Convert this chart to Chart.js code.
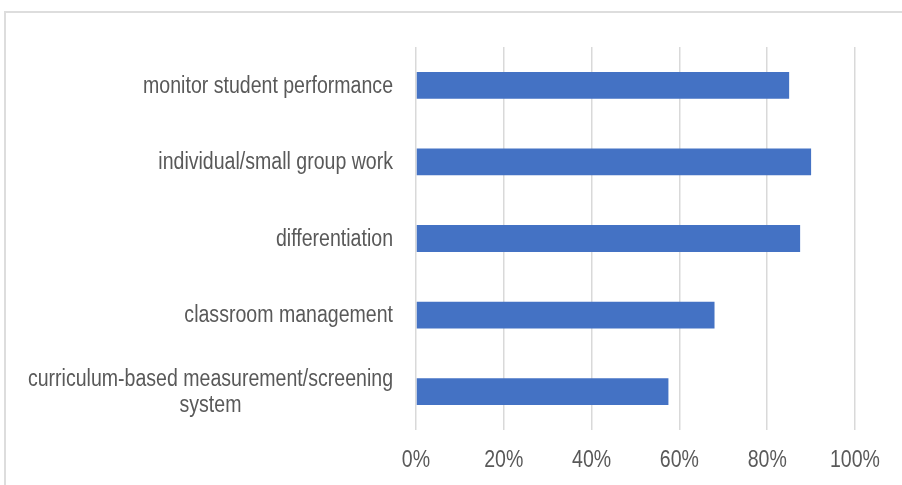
<!DOCTYPE html>
<html>
<head>
<meta charset="utf-8">
<script src="https://cdn.jsdelivr.net/npm/chart.js@4.4.0/dist/chart.umd.min.js"></script>
<style>
  html, body { margin: 0; padding: 0; background: #fff; overflow: hidden; }
  #wrap { position: relative; width: 902px; height: 485px; }
  #frame { position: absolute; left: 4px; top: 11px; width: 1000px; height: 600px;
           border-left: 2px solid #dddddd; border-top: 2px solid #dddddd; }
  canvas { position: absolute; left: 0; top: 0; }
</style>
</head>
<body>
<div id="wrap">
  <div id="frame"></div>
  <canvas id="graphique" width="902" height="485"></canvas>
</div>
<script>
// categories, top to bottom
const categories = [
  'monitor student performance',
  'individual/small group work',
  'differentiation',
  'classroom management',
  ['curriculum-based measurement/screening', 'system'],
];
// share of respondents, %
const values = [85, 90, 87.5, 68, 57.5];
const xTicks = [0, 20, 40, 60, 80, 100];

const FONT = '"Liberation Sans", Arial, sans-serif';
const FONT_SIZE = 23;
const TEXT = '#595959';
const SQUEEZE = 0.85; // the source font is a narrow one

// draws a line of text squeezed horizontally
function narrowText(ctx, txt, x, y, align) {
  const w = ctx.measureText(txt).width * SQUEEZE;
  let left = x;
  if (align === 'center') left = x - w / 2;
  if (align === 'right') left = x - w;
  ctx.save();
  ctx.translate(left, y);
  ctx.scale(SQUEEZE, 1);
  ctx.fillText(txt, 0, 0);
  ctx.restore();
}

// axis labels: y block right aligned, lines centred in the block (like Excel)
const axisText = {
  id: 'axisText',
  afterDraw(chart) {
    const ctx = chart.ctx;
    const ys = chart.scales.y;
    const xs = chart.scales.x;
    ctx.save();
    ctx.font = FONT_SIZE + 'px ' + FONT;
    ctx.fillStyle = TEXT;
    ctx.textBaseline = 'middle';
    ctx.textAlign = 'left';
    const right = chart.chartArea.left - 23;
    const lineH = 26;
    categories.forEach((lab, i) => {
      const lines = Array.isArray(lab) ? lab : [lab];
      const w = Math.max(...lines.map(l => ctx.measureText(l).width)) * SQUEEZE;
      const cx = right - w / 2;
      const y = ys.getPixelForTick(i) + 1;
      const y0 = y - (lines.length - 1) * lineH / 2;
      lines.forEach((l, k) => narrowText(ctx, l, cx, y0 + k * lineH, 'center'));
    });
    xTicks.forEach((v) => {
      narrowText(ctx, v + '%', xs.getPixelForValue(v), chart.chartArea.bottom + 31, 'center');
    });
    ctx.restore();
  }
};

new Chart(document.getElementById('graphique'), {
  type: 'bar',
  data: {
    labels: categories,
    datasets: [{
      data: values,
      backgroundColor: '#4472C4',
      borderWidth: 0,
      categoryPercentage: 1,
      barPercentage: 0.35,
    }],
  },
  options: {
    indexAxis: 'y',
    responsive: false,
    animation: false,
    layout: { padding: { top: 47, right: 47, left: 0, bottom: 0 } },
    plugins: { legend: { display: false }, tooltip: { enabled: false } },
    scales: {
      x: {
        min: 0,
        max: 100,
        afterBuildTicks: (s) => { s.ticks = xTicks.map(v => ({ value: v })); },
        afterFit: (s) => { s.height = 55; },
        grid: { color: '#d9d9d9', lineWidth: 1.5, drawTicks: false },
        border: { display: false },
        ticks: { color: 'rgba(0,0,0,0)', font: { family: FONT, size: FONT_SIZE } },
      },
      y: {
        afterFit: (s) => { s.width = 416; },
        grid: { display: false },
        border: { display: false },
        ticks: { color: 'rgba(0,0,0,0)', font: { family: FONT, size: FONT_SIZE } },
      },
    },
  },
  plugins: [axisText],
});
</script>
</body>
</html>
